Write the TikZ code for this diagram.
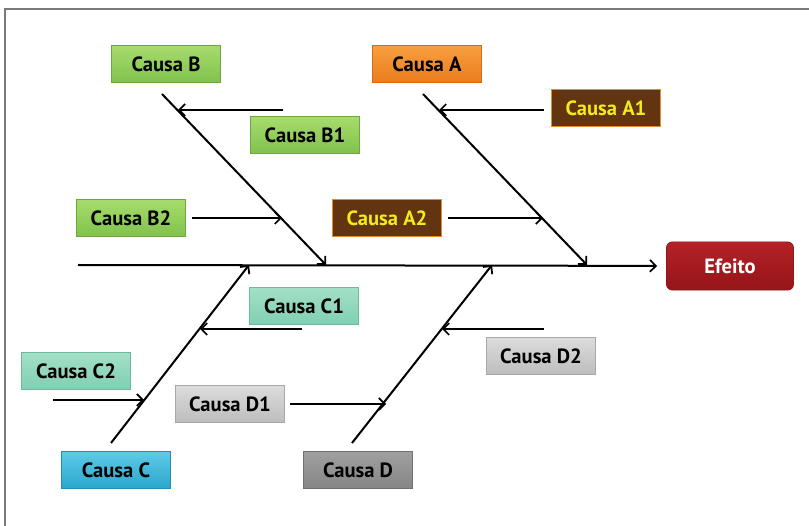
\documentclass[tikz,border=0pt]{standalone}
\usepackage{fontspec}
\setmainfont{PT Sans}
\usetikzlibrary{arrows.meta}

\definecolor{frameGray}{HTML}{7A7A7A}
\definecolor{grnTop}{HTML}{A8DC6E}\definecolor{grnBot}{HTML}{7FC24C}\definecolor{grnLine}{HTML}{6EA640}
\definecolor{orgTop}{HTML}{F9A040}\definecolor{orgBot}{HTML}{EA7B1E}\definecolor{orgLine}{HTML}{D96A10}
\definecolor{brnFill}{HTML}{62340F}\definecolor{brnLine}{HTML}{E38A2A}\definecolor{brnText}{HTML}{F2EC1A}
\definecolor{redTop}{HTML}{B42228}\definecolor{redBot}{HTML}{951418}
\definecolor{tealTop}{HTML}{A3E0C8}\definecolor{tealBot}{HTML}{80CFB2}\definecolor{tealLine}{HTML}{6DBB9C}
\definecolor{bluTop}{HTML}{5FCBE8}\definecolor{bluBot}{HTML}{2AA5CC}\definecolor{bluLine}{HTML}{2090B8}
\definecolor{lgTop}{HTML}{DCDCDC}\definecolor{lgBot}{HTML}{BDBDBD}\definecolor{lgLine}{HTML}{A8A8A8}
\definecolor{dgTop}{HTML}{A0A0A0}\definecolor{dgBot}{HTML}{858585}\definecolor{dgLine}{HTML}{707070}

\begin{document}
\begin{tikzpicture}[x=0.85pt, y=-0.85pt, box/.style={rectangle, inner sep=0pt, minimum width=93pt, minimum height=32pt, line width=0.6pt, font=\bfseries\fontsize{17.5}{17.5}\selectfont}, bgreen/.style={box, top color=grnTop, bottom color=grnBot, draw=grnLine}, borange/.style={box, top color=orgTop, bottom color=orgBot, draw=orgLine}, bbrown/.style={box, fill=brnFill, draw=brnLine, text=brnText}, bteal/.style={box, top color=tealTop, bottom color=tealBot, draw=tealLine}, bblue/.style={box, top color=bluTop, bottom color=bluBot, draw=bluLine}, blight/.style={box, top color=lgTop, bottom color=lgBot, draw=lgLine}, bdark/.style={box, top color=dgTop, bottom color=dgBot, draw=dgLine}, effect/.style={box, rounded corners=5pt, minimum width=108pt, minimum height=41pt, top color=redTop, bottom color=redBot, draw=redBot, text=white}, n/.style={-{Straight Barb[length=5pt, width=10pt, line width=1.5pt]}, line width=1.7pt}, bone/.style={line width=1.7pt}]
            \useasboundingbox (0,0) rectangle (809,526);
            \draw[frameGray, line width=2.5pt] (5,526) -- (5,9) -- (809,9);
            % nodes
            \node[borange] (ca) at (427,64) {Causa A};
            \node[bgreen] (cb) at (166,64) {Causa B};
            \node[bbrown] (ca1) at (606,108) {Causa A1};
            \node[bgreen] (cb1) at (305,135) {Causa B1};
            \node[bgreen] (cb2) at (131,218) {Causa B2};
            \node[bbrown] (ca2) at (387,218) {Causa A2};
            \node[effect] (ef) at (730,266) {Efeito};
            \node[bteal] (cc1) at (304,306) {Causa C1};
            \node[blight] (cd2) at (541,356) {Causa D2};
            \node[bteal] (cc2) at (76,371) {Causa C2};
            \node[blight] (cd1) at (230,404) {Causa D1};
            \node[bblue] (cc) at (116,470) {Causa C};
            \node[bdark] (cd) at (358,470) {Causa D};
            % spine and bones
            \coordinate (tail) at (78,265);
            \coordinate (ta) at (423,94);  \coordinate (ha) at (587,265);
            \coordinate (tb) at (162,94);  \coordinate (hb) at (326,265);
            \coordinate (tc) at (111,443); \coordinate (hc) at (249,265);
            \coordinate (td) at (352,443); \coordinate (hd) at (492,265);
            % points where the small causes meet the bones
            \coordinate (pa1) at (439,110); \coordinate (pa2) at (543,218);
            \coordinate (pb1) at (178,110); \coordinate (pb2) at (282,218);
            \coordinate (pc1) at (200,329); \coordinate (pc2) at (144,400);
            \coordinate (pd1) at (386,404); \coordinate (pd2) at (442,329);
            \coordinate (sb1) at (283,110); \coordinate (sc1) at (302,329);
            \coordinate (sc2) at (53,400);  \coordinate (sd2) at (544,329);
            % edges
            \draw[n, shorten >=9*0.85pt] (tail) -- (ef);
            \draw[n] (ta) -- (ha);
            \draw[n] (tb) -- (hb);
            \draw[n] (tc) -- (hc);
            \draw[n] (td) -- (hd);
            \draw[n, shorten <=6pt] (pa1 -| ca1.west) -- (pa1);
            \draw[n, shorten <=5pt] (ca2) -- (pa2);
            \draw[n] (sb1) -- (pb1);
            \draw[n, shorten <=5pt] (cb2) -- (pb2);
            \draw[n] (sc1) -- (pc1);
            \draw[n] (sc2) -- (pc2);
            \draw[n, shorten <=4pt] (cd1) -- (pd1);
            \draw[n] (sd2) -- (pd2);
        \end{tikzpicture}
\end{document}
